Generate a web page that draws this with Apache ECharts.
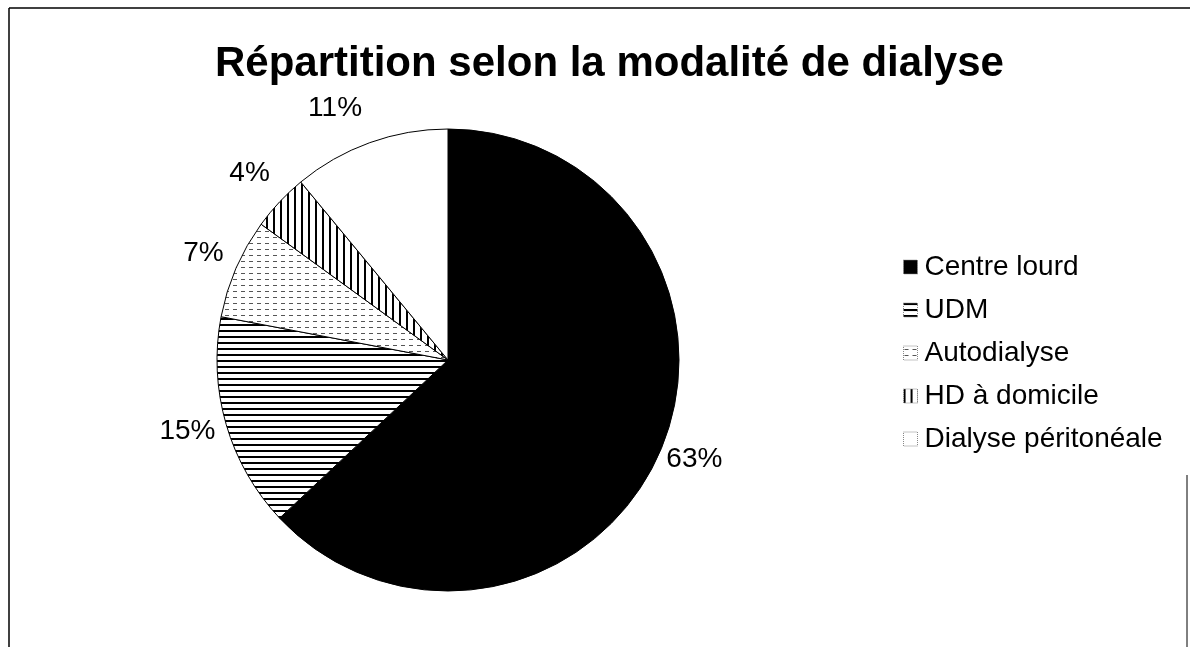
<!DOCTYPE html>
<html>
<head>
    <meta charset="utf-8">
    <script src="https://cdn.jsdelivr.net/npm/echarts@6/dist/echarts.min.js"></script>
    <style>
        html, body { margin: 0; padding: 0; background: #fff; }
        #chart { width: 1196px; height: 647px; }
    </style>
</head>
<body>
<div id="chart"></div>
<script type="text/javascript">
    // données
    var modalites = ['Centre lourd', 'UDM', 'Autodialyse', 'HD à domicile', 'Dialyse péritonéale'];
    var pourcentages = [63, 15, 7, 4, 11];

    // petits motifs de remplissage (hachures)
    function motif(w, h, draw) {
        var c = document.createElement('canvas');
        c.width = w; c.height = h;
        var ctx = c.getContext('2d');
        ctx.fillStyle = '#fff';
        ctx.fillRect(0, 0, w, h);
        draw(ctx);
        return { image: c, repeat: 'repeat' };
    }
    var horiz = motif(6, 6, function (ctx) { ctx.fillStyle = '#000'; ctx.fillRect(0, 0, 6, 2); });
    var points = motif(8, 6, function (ctx) { ctx.fillStyle = '#555'; ctx.fillRect(1, 3, 4, 1); });
    var vert = motif(7, 6, function (ctx) { ctx.fillStyle = '#000'; ctx.fillRect(0, 0, 2, 6); });
    var remplissages = ['#000', horiz, points, vert, '#fff'];

    // décalage des étiquettes (placement façon Excel)
    var decalage = [[-6, 4], [2, 5], [0, -12], [1, -23], [0, -27]];

    var chart = echarts.init(document.getElementById('chart'));

    var option = {
        animation: false,
        backgroundColor: '#fff',
        textStyle: { fontFamily: 'Liberation Sans, Arial, sans-serif' },
        title: {
            text: 'Répartition selon la modalité de dialyse',
            left: 210,
            top: 38,
            textStyle: { fontSize: 42, fontWeight: 'bold', color: '#000', fontFamily: 'Liberation Sans, Arial, sans-serif' }
        },
        legend: {
            orient: 'vertical',
            left: 898,
            top: 248,
            icon: 'rect',
            itemWidth: 14,
            itemHeight: 14,
            itemGap: 15,
            itemStyle: { borderColor: '#888', borderWidth: 1, borderType: 'dotted' },
            textStyle: { fontSize: 28, color: '#000', padding: [0, 0, 0, 2] },
            data: modalites
        },
        graphic: [
            { type: 'line', shape: { x1: 9, y1: 8, x2: 1190, y2: 8 }, style: { stroke: '#000', lineWidth: 1.5 } },
            { type: 'line', shape: { x1: 9, y1: 8, x2: 9, y2: 647 }, style: { stroke: '#000', lineWidth: 1.5 } },
            { type: 'line', shape: { x1: 1187, y1: 475, x2: 1187, y2: 647 }, style: { stroke: '#000', lineWidth: 1 } }
        ],
        series: [{
            type: 'pie',
            center: [448, 360],
            radius: 231,
            startAngle: 90,
            clockwise: true,
            avoidLabelOverlap: false,
            itemStyle: { borderColor: '#000', borderWidth: 1 },
            label: {
                show: true,
                position: 'outside',
                formatter: '{c}%',
                fontSize: 28,
                color: '#000'
            },
            labelLine: { show: false, length: 8, length2: 0 },
            labelLayout: function (p) {
                var d = decalage[p.dataIndex];
                return { dx: d[0], dy: d[1] };
            },
            data: modalites.map(function (n, i) {
                return { name: n, value: pourcentages[i], itemStyle: { color: remplissages[i] } };
            })
        }]
    };

    chart.setOption(option);
</script>
</body>
</html>
